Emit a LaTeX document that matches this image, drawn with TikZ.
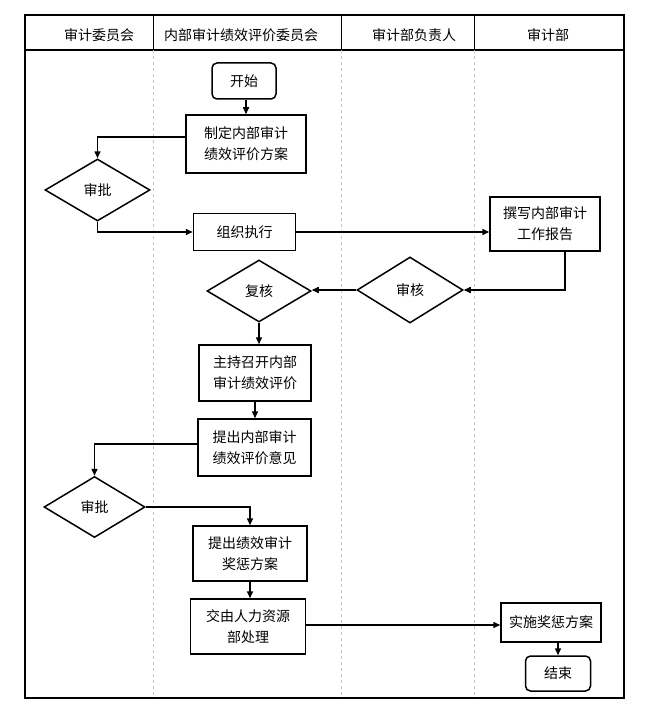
\documentclass[tikz,border=0pt]{standalone}
\usepackage{fontspec}
\setmainfont{Noto Sans CJK SC}
\usetikzlibrary{shapes.geometric,arrows.meta}
\begin{document}
\begin{tikzpicture}[x=1pt,y=-1pt,
  every node/.style={font=\fontsize{14}{21}\selectfont, align=center, inner sep=0pt},
  proc/.style={draw, line width=1.5pt, rectangle},
  term/.style={draw, line width=1.5pt, rectangle, rounded corners=5pt},
  dec/.style={draw, line width=1.5pt, diamond},
  conn/.style={line width=1.5pt, -{Triangle[length=7pt,width=6pt]}},
  lane/.style={dashed, gray!45, line width=0.6pt},
  sep/.style={line width=0.8pt}]
\useasboundingbox (0,0) rectangle (645,706);
% frame
\draw[line width=1.6pt] (25,15) rectangle (624,698);
\draw[line width=1.6pt] (25,50) -- (624,50);
\foreach \x in {153.5,341.5,474.5}{
  \draw[sep] (\x,15) -- (\x,50);
  \draw[lane] (\x,50) -- (\x,698);
}
% headers
\node (h1) at (99,35) {审计委员会};
\node (h2) at (241,35) {内部审计绩效评价委员会};
\node (h3) at (414,35) {审计部负责人};
\node (h4) at (548,35) {审计部};
% nodes
\node[term, minimum width=64, minimum height=36] (start) at (244,81) {开始};
\node[proc, minimum width=120, minimum height=58] (n1) at (246,144) {制定内部审计\\绩效评价方案};
\node[dec, minimum width=105, minimum height=62] (d1) at (97.5,190) {审批};
\node[proc, minimum width=102, minimum height=37] (n2) at (244.5,232) {组织执行};
\node[proc, minimum width=110, minimum height=54] (n3) at (545,224) {撰写内部审计\\工作报告};
\node[dec, minimum width=106, minimum height=66] (d2) at (410,290) {审核};
\node[dec, minimum width=104, minimum height=62] (d3) at (259,291) {复核};
\node[proc, minimum width=112, minimum height=56] (n4) at (255,373) {主持召开内部\\审计绩效评价};
\node[proc, minimum width=113, minimum height=57] (n5) at (254.5,447.5) {提出内部审计\\绩效评价意见};
\node[dec, minimum width=101, minimum height=61] (d4) at (94.5,507) {审批};
\node[proc, minimum width=114, minimum height=55] (n6) at (250,553.5) {提出绩效审计\\奖惩方案};
\node[proc, minimum width=115, minimum height=55] (n7) at (248,626.5) {交由人力资源\\部处理};
\node[proc, minimum width=100, minimum height=39] (n8) at (551,622.5) {实施奖惩方案};
\node[term, minimum width=65, minimum height=35] (end) at (558,673.5) {结束};
% connectors
\draw[conn] (start.south -| n1.north) -- (n1.north);
\draw[conn] ([yshift=7pt]n1.west) -| (d1.north);
\draw[conn] (d1.south) |- (n2.west);
\draw[conn] (n2.east) -- (n2.east -| n3.west);
\draw[conn] ([xshift=20pt]n3.south) |- (d2.east);
\draw[conn] (d2.west) -- (d2.west -| d3.east);
\draw[conn] (d3.south) -- (d3.south |- n4.north);
\draw[conn] (n4.south) -- (n4.south |- n5.north);
\draw[conn] ([yshift=3.5pt]n5.west) -| (d4.north);
\draw[conn] (d4.east) -| (n6.north);
\draw[conn] (n6.south) -- (n6.south |- n7.north);
\draw[conn] ([yshift=1.5pt]n7.east) -- ([yshift=1.5pt]n7.east -| n8.west);
\draw[conn] (end.north |- n8.south) -- (end.north);
\end{tikzpicture}
\end{document}
